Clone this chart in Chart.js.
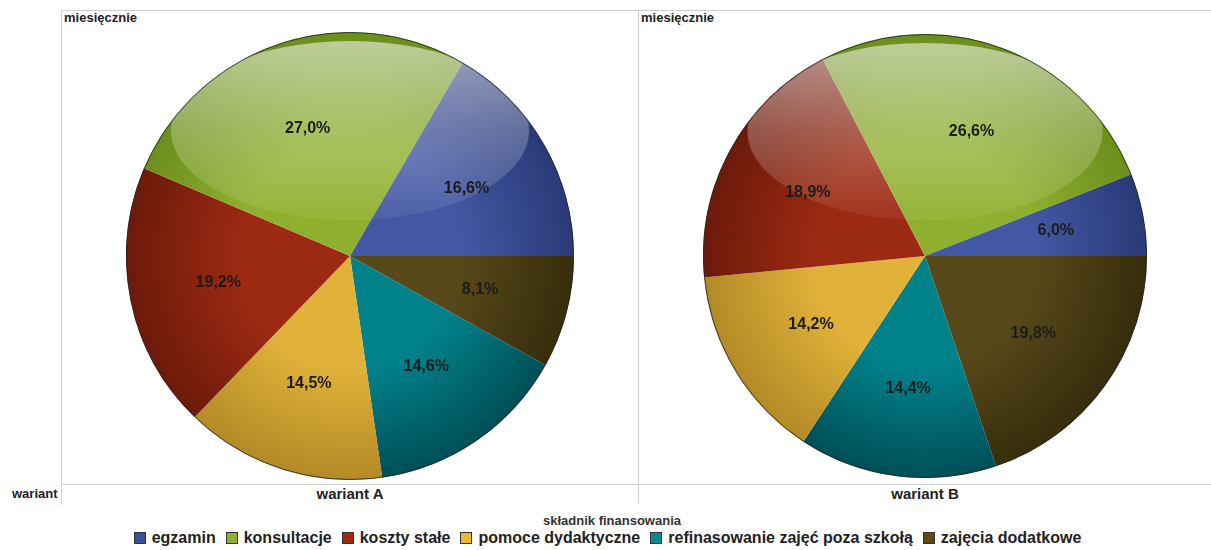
<!DOCTYPE html>
<html lang="pl">
<head>
<meta charset="utf-8">
<script src="https://cdn.jsdelivr.net/npm/chart.js@4.4.1/dist/chart.umd.min.js"></script>
<style>
  html, body { margin:0; padding:0; background:#fff; }
  body { width:1211px; height:550px; position:relative; overflow:hidden;
         font-family:"Liberation Sans", Arial, sans-serif; color:#222; }
  .ln { position:absolute; background:#d0d0d0; }
  .txt { position:absolute; font-weight:bold; white-space:nowrap; }
  .pie { position:absolute; }
  #legend { position:absolute; left:2px; width:1211px; top:529px; text-align:center;
            font-weight:bold; font-size:16px; color:#222; white-space:nowrap; }
  #legend span.it { display:inline-block; margin:0 5px; }
  #legend i { display:inline-block; width:10px; height:10px; border:1px solid #333;
              margin-right:6px; vertical-align:-1px; }
</style>
</head>
<body>
<!-- frame -->
<div class="ln" style="left:61px;top:10px;width:1150px;height:1px"></div>
<div class="ln" style="left:61px;top:10px;width:1px;height:495px"></div>
<div class="ln" style="left:638px;top:10px;width:1px;height:493px"></div>
<div class="ln" style="left:61px;top:484px;width:1150px;height:1px"></div>

<div class="txt" style="left:64px;top:10px;font-size:13px">miesięcznie</div>
<div class="txt" style="left:641px;top:10px;font-size:13px">miesięcznie</div>
<div class="txt" style="left:12px;top:486px;font-size:13px">wariant</div>
<div class="txt" id="labA" style="left:250px;width:200px;text-align:center;top:485px;font-size:15px"></div>
<div class="txt" id="labB" style="left:825px;width:200px;text-align:center;top:485px;font-size:15px"></div>
<div class="txt" style="left:0;width:1224px;text-align:center;top:513px;font-size:13px;color:#333">składnik finansowania</div>

<div class="pie" style="left:126px;top:32px;width:448px;height:448px"><canvas id="pieA"></canvas></div>
<div class="pie" style="left:703px;top:34px;width:444px;height:444px"><canvas id="pieB"></canvas></div>

<div id="legend"></div>

<script>
// Data
const categories = ["egzamin", "konsultacje", "koszty stałe", "pomoce dydaktyczne",
                    "refinasowanie zajęć poza szkołą", "zajęcia dodatkowe"];
const variants   = ["wariant A", "wariant B"];
const valuesA    = [16.6, 27.0, 19.2, 14.5, 14.6, 8.1];
const valuesB    = [6.0, 26.6, 18.9, 14.2, 14.4, 19.8];

// colours: [inner, outer, legend swatch]
const sliceColors = [
    ["#4358a4", "#2a3a78", "#3a4fa0"],   // egzamin - blue
    ["#8fb02e", "#6c8e1c", "#8db22c"],   // konsultacje - green
    ["#9c2912", "#6c1a0b", "#a3260f"],   // koszty stałe - red
    ["#e0b23a", "#b38a26", "#f0b82c"],   // pomoce - yellow
    ["#01828b", "#004f57", "#0a8a90"],   // refinasowanie - teal
    ["#57481a", "#372d0c", "#5e4a14"]    // zajęcia - olive
];

document.getElementById("labA").textContent = variants[0];
document.getElementById("labB").textContent = variants[1];

// Legend
const leg = document.getElementById("legend");
categories.forEach((c,i)=>{
    const s = document.createElement("span");
    s.className = "it";
    s.innerHTML = `<i style="background:${sliceColors[i][2]}"></i>${c}`;
    leg.appendChild(s);
});

const fmt = v => v.toFixed(1).replace(".", ",") + "%";

// gloss + labels + outline
const pieDeco = {
    id: "pieDeco",
    afterDatasetsDraw(chart){
        const ctx = chart.ctx;
        const arcs = chart.getDatasetMeta(0).data;
        if (!arcs.length) return;
        const cx = arcs[0].x, cy = arcs[0].y, R = arcs[0].outerRadius;

        // glossy ellipse
        ctx.save();
        ctx.beginPath(); ctx.arc(cx, cy, R, 0, Math.PI*2); ctx.clip();
        const ey = cy - R*0.56, rx = R*0.80, ry = R*0.40;
        const g = ctx.createLinearGradient(0, ey-ry, 0, ey+ry);
        g.addColorStop(0, "rgba(255,255,255,0.55)");
        g.addColorStop(0.5, "rgba(255,255,255,0.26)");
        g.addColorStop(1, "rgba(255,255,255,0.05)");
        ctx.fillStyle = g;
        ctx.beginPath(); ctx.ellipse(cx, ey, rx, ry, 0, 0, Math.PI*2); ctx.fill();
        ctx.restore();

        // outline
        ctx.save();
        ctx.strokeStyle = "rgba(40,40,40,0.8)";
        ctx.lineWidth = 1;
        ctx.beginPath(); ctx.arc(cx, cy, R-0.5, 0, Math.PI*2); ctx.stroke();
        ctx.restore();

        // labels
        const vals = chart.data.datasets[0].data;
        ctx.save();
        ctx.font = "bold 16px 'Liberation Sans', Arial, sans-serif";
        ctx.fillStyle = "#1c1c1c";
        ctx.textAlign = "center"; ctx.textBaseline = "middle";
        arcs.forEach((a,i)=>{
            const mid = (a.startAngle + a.endAngle)/2;
            const r = a.outerRadius*0.6;
            ctx.fillText(fmt(vals[i]), a.x + Math.cos(mid)*r, a.y + Math.sin(mid)*r);
        });
        ctx.restore();
    }
};

function makePie(id, values){
    // chart.js draws clockwise, reference runs counter-clockwise from 3 o'clock
    const data = values.slice().reverse();
    const cols = sliceColors.slice().reverse();
    return new Chart(document.getElementById(id), {
        type: "pie",
        data: {
            labels: categories.slice().reverse(),
            datasets: [{
                data,
                borderWidth: 0,
                backgroundColor: (c) => {
                    const ch = c.chart, ar = ch.chartArea;
                    if (!ar) return cols[c.dataIndex][0];
                    const x = (ar.left+ar.right)/2, y = (ar.top+ar.bottom)/2;
                    const R = Math.min(ar.right-ar.left, ar.bottom-ar.top)/2;
                    const gr = ch.ctx.createRadialGradient(x, y, 0, x, y, R);
                    gr.addColorStop(0, cols[c.dataIndex][0]);
                    gr.addColorStop(0.5, cols[c.dataIndex][0]);
                    gr.addColorStop(1, cols[c.dataIndex][1]);
                    return gr;
                }
            }]
        },
        options: {
            responsive: true, maintainAspectRatio: false,
            animation: false,
            rotation: 90,
            layout: { padding: 0 },
            plugins: { legend: { display:false }, tooltip: { enabled:false } }
        },
        plugins: [pieDeco]
    });
}

makePie("pieA", valuesA);
makePie("pieB", valuesB);
</script>
</body>
</html>
